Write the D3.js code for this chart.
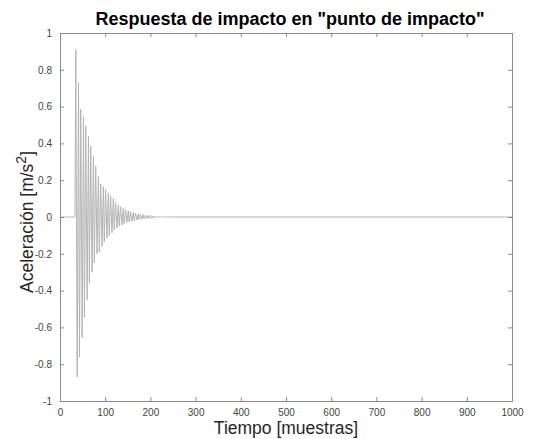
<!DOCTYPE html>
<html><head><meta charset="utf-8">
<script src="https://cdn.jsdelivr.net/npm/d3@7"></script>
<style>body{margin:0;background:#fff}svg{display:block;font-family:"Liberation Sans",Arial,sans-serif}</style>
</head><body><svg id="c" width="539" height="439"></svg>
<script>
// Signal vertices (sample index, acceleration)
const preSamples = [0,3,6,9,12,15,18,21,24,27,30,33];
const preValues  = [0,0.004,-0.004,0.005,-0.004,0.004,-0.005,0.004,-0.004,0.005,-0.004,0.003];
const posSamples = [35,41,46,52,57,63,68,74,79,85,90,96,101,107,112,118,123,129,134,140,145,151,156,162,167,173,178,184,189,195,200,206,211,217,222,228,233,239,244];
const posValues  = [0.91,0.73,0.585,0.545,0.495,0.44,0.385,0.33,0.275,0.22,0.18,0.165,0.15,0.13,0.115,0.10,0.08,0.066,0.056,0.047,0.04,0.034,0.029,0.025,0.021,0.018,0.015,0.013,0.011,0.009,0.008,0.006,0.005,0.004,0.004,0.003,0.002,0.002,0.001];
const negSamples = [38,43,49,54,60,65,71,76,82,87,93,98,104,109,115,120,126,131,137,142,148,153,159,164,170,175,181,186,192,197,203,208,214,219,225,230,236,241,247];
const negValues  = [-0.87,-0.76,-0.655,-0.545,-0.45,-0.36,-0.30,-0.25,-0.20,-0.19,-0.16,-0.135,-0.115,-0.10,-0.085,-0.07,-0.06,-0.05,-0.043,-0.037,-0.031,-0.027,-0.023,-0.02,-0.017,-0.014,-0.012,-0.01,-0.009,-0.007,-0.006,-0.005,-0.004,-0.003,-0.003,-0.002,-0.002,-0.001,0];
const tailSamples = [250,1000];
const tailValues  = [0,0];
const xTicks = [0,100,200,300,400,500,600,700,800,900,1000];
const yTicks = [-1,-0.8,-0.6,-0.4,-0.2,0,0.2,0.4,0.6,0.8,1];

const pts = [];
preSamples.forEach((s,i)=>pts.push([s,preValues[i]]));
posSamples.forEach((s,i)=>{pts.push([s,posValues[i]]); pts.push([negSamples[i],negValues[i]]);});
tailSamples.forEach((s,i)=>pts.push([s,tailValues[i]]));
pts.sort((a,b)=>a[0]-b[0]);

const svg = d3.select("#c");
const L=60,R=512,T=33,B=401;
const x = d3.scaleLinear().domain([0,1000]).range([L,R]);
const y = d3.scaleLinear().domain([-1,1]).range([B,T]);

svg.append("path").datum(pts)
  .attr("fill","none").attr("stroke","#b4b4b4").attr("stroke-width",1)
  .attr("d", d3.line().x(d=>x(d[0])).y(d=>y(d[1])));

const axCol="#8a8a8a";
function style(g){
  g.select(".domain").attr("stroke",axCol);
  g.selectAll(".tick line").attr("stroke",axCol);
  g.selectAll("text").attr("fill","#444").attr("font-size",10).attr("font-family","Liberation Sans, Arial, sans-serif");
}
const fmt = d => String(d);
svg.append("g").attr("transform",`translate(0,${B})`)
  .call(d3.axisBottom(x).tickValues(xTicks).tickSize(-4).tickSizeOuter(0).tickPadding(8).tickFormat(fmt))
  .call(style);
svg.append("g").attr("transform",`translate(0,${T})`)
  .call(d3.axisTop(x).tickValues(xTicks).tickSize(-4).tickSizeOuter(0).tickFormat(""))
  .call(style);
svg.append("g").attr("transform",`translate(${L},0)`)
  .call(d3.axisLeft(y).tickValues(yTicks).tickSize(-4).tickSizeOuter(0).tickPadding(8).tickFormat(fmt))
  .call(style);
svg.append("g").attr("transform",`translate(${R},0)`)
  .call(d3.axisRight(y).tickValues(yTicks).tickSize(-4).tickSizeOuter(0).tickFormat(""))
  .call(style);

svg.append("text").attr("x",(L+R)/2+4).attr("y",25).attr("text-anchor","middle")
  .attr("font-size",18).attr("font-weight","bold").attr("fill","#000")
  .text('Respuesta de impacto en "punto de impacto"');
svg.append("text").attr("x",(L+R)/2).attr("y",434).attr("text-anchor","middle")
  .attr("font-size",17.5).attr("fill","#262626").text("Tiempo [muestras]");
const yl = svg.append("text").attr("transform",`translate(33,222) rotate(-90)`)
  .attr("text-anchor","middle").attr("font-size",17.5).attr("fill","#262626");
yl.append("tspan").text("Aceleración [m/s");
yl.append("tspan").attr("dy",-7).attr("font-size",14).text("2");
yl.append("tspan").attr("dy",7).text("]");
</script></body></html>
